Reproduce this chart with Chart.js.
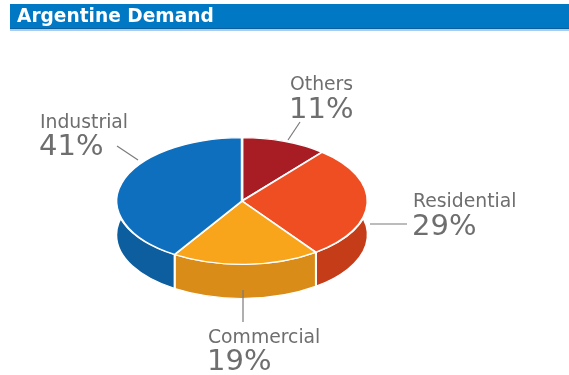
<!DOCTYPE html>
<html>
<head>
<meta charset="utf-8">
<script src="https://cdn.jsdelivr.net/npm/chart.js@4"></script>
<style>
html,body{margin:0;padding:0;background:#fff;}
#wrap{position:relative;width:569px;height:375px;}
#title{position:absolute;left:10px;top:4px;width:559px;height:24px;background:#0078c4;
  border-bottom:1px solid #0a5f9c;box-shadow:0 2px 0 #a9cdea;
  color:#fff;font:bold 18.6px "DejaVu Sans",Verdana,sans-serif;line-height:24px;text-indent:7px;}
canvas{position:absolute;left:0;top:0;}
</style>
</head>
<body>
<div id="wrap">
<canvas id="c" width="569" height="375"></canvas>
<div id="title">Argentine Demand</div>
</div>
<script>
// Data
const categories = ["Others", "Residential", "Commercial", "Industrial"];
const shares = [11, 29, 19, 41];
const percentLabels = ["11%", "29%", "19%", "41%"];

// Styles
const topColors = ["#a81c24", "#ee4e22", "#f8a51c", "#0f6fbf"];
const sideColors = ["#861419", "#c53d18", "#d98c18", "#0c5e9f"];
const TILT = 0.504;
const DEPTH = 34;
// label layout: [textX, nameBaseline, pctBaseline, lineX1, lineY1, lineX2, lineY2]
const labelLayout = [
  [290, 90, 118, 300, 122, 288, 140],
  [413, 207, 235, 370, 224, 407, 224],
  [208, 343, 370, 243, 290, 243, 322],
  [40, 128, 155, 117, 146, 138, 160]
];

const pie3d = {
  id: 'pie3d',
  beforeDatasetsDraw(chart) {
    const ctx = chart.ctx;
    const meta = chart.getDatasetMeta(0);
    const el0 = meta.data[0];
    const cx = el0.x, cy = el0.y;
    ctx.save();
    ctx.translate(cx, cy);
    ctx.scale(1, TILT);
    ctx.translate(-cx, -cy);
    const D = DEPTH / TILT;
    meta.data.forEach((el, i) => {
      const r = el.outerRadius;
      ctx.beginPath();
      ctx.arc(el.x, el.y, r, el.startAngle, el.endAngle);
      ctx.arc(el.x, el.y + D, r, el.endAngle, el.startAngle, true);
      ctx.closePath();
      ctx.fillStyle = sideColors[i];
      ctx.fill();
      ctx.lineWidth = 2;
      ctx.strokeStyle = '#ffffff';
      ctx.stroke();
    });
  },
  afterDatasetsDraw(chart) {
    chart.ctx.restore();
  },
  afterDraw(chart) {
    const ctx = chart.ctx;
    ctx.save();
    categories.forEach((name, i) => {
      const L = labelLayout[i];
      ctx.strokeStyle = '#7a7a7a';
      ctx.lineWidth = 1.2;
      ctx.beginPath();
      ctx.moveTo(L[3], L[4]);
      ctx.lineTo(L[5], L[6]);
      ctx.stroke();
      ctx.fillStyle = '#6e6e6e';
      ctx.textBaseline = 'alphabetic';
      ctx.textAlign = 'left';
      ctx.font = '18.8px "DejaVu Sans", Verdana, sans-serif';
      ctx.fillText(name, L[0], L[1]);
      ctx.font = '29px "DejaVu Sans", Verdana, sans-serif';
      ctx.fillText(percentLabels[i], L[0] - 1, L[2]);
    });
    ctx.restore();
  }
};

new Chart(document.getElementById('c'), {
  type: 'pie',
  data: {
    labels: categories,
    datasets: [{
      data: shares,
      backgroundColor: topColors,
      borderColor: '#ffffff',
      borderWidth: 2.5,
      clip: false
    }]
  },
  options: {
    responsive: false,
    animation: false,
    events: [],
    layout: { padding: { left: 115, right: 200, top: 74, bottom: 47 } },
    plugins: { legend: { display: false }, tooltip: { enabled: false }, title: { display: false } }
  },
  plugins: [pie3d]
});
</script>
</body>
</html>
